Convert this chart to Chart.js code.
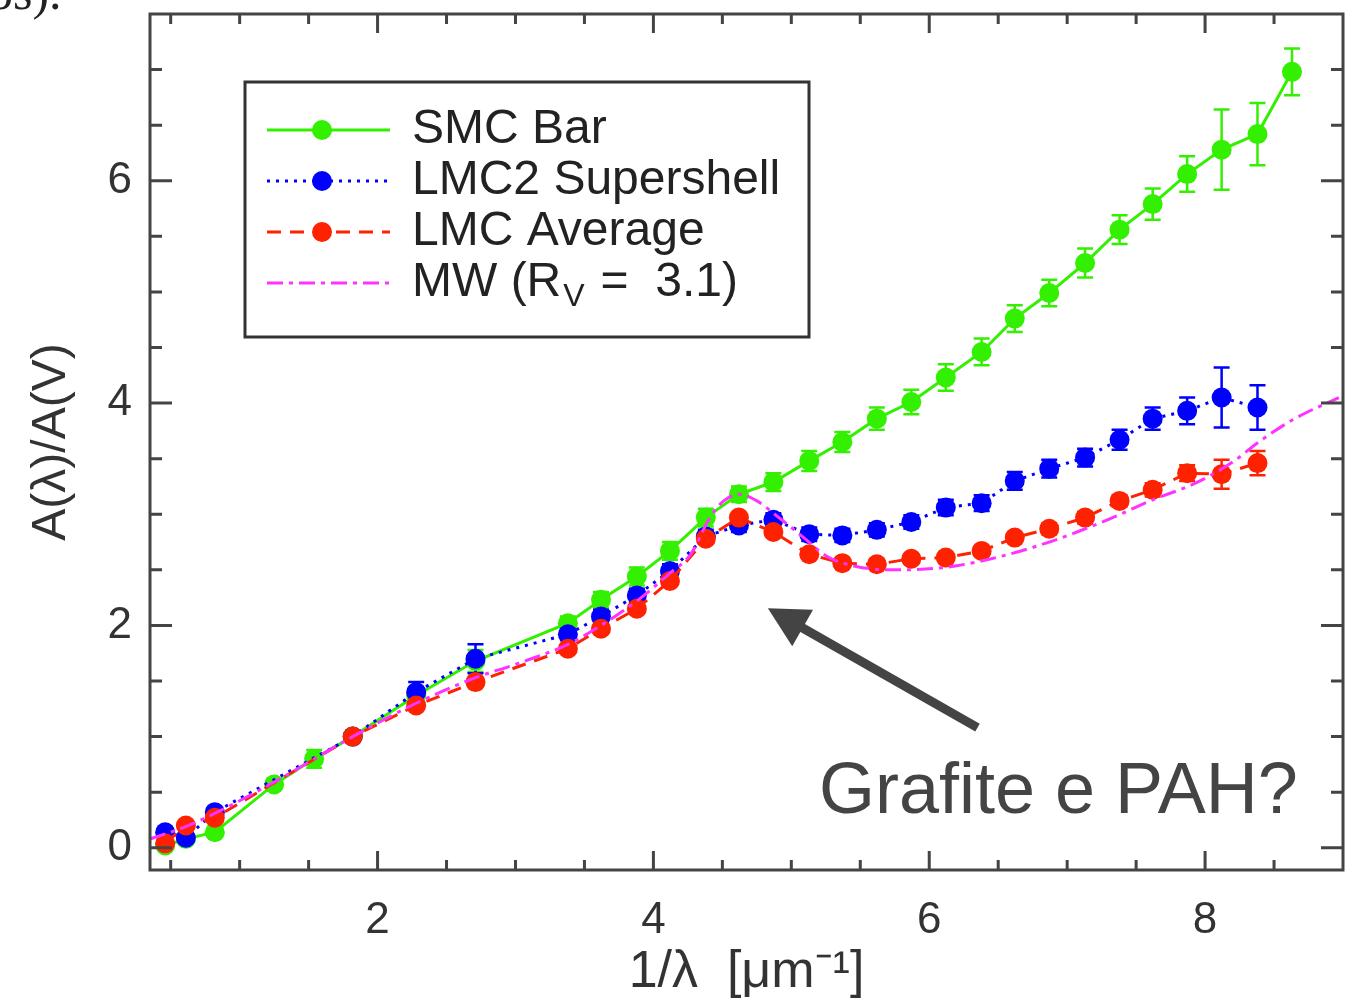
<!DOCTYPE html>
<html>
<head>
<meta charset="utf-8">
<script src="https://cdn.jsdelivr.net/npm/chart.js@4.4.1/dist/chart.umd.min.js"></script>
<style>
html,body{margin:0;padding:0;background:#fff;overflow:hidden}
#wrap{width:1353px;height:1004px}
</style>
</head>
<body>
<div id="wrap"><canvas id="c" width="1353" height="1004"></canvas></div>
<script>
// values: 1/lambda [um^-1] vs A(lambda)/A(V)
const smcX=[0.46,0.61,0.82,1.25,1.54,1.82,2.28,2.71,3.38,3.62,3.88,4.12,4.38,4.62,4.87,5.13,5.37,5.62,5.87,6.12,6.38,6.62,6.87,7.13,7.38,7.62,7.87,8.12,8.38,8.63];
const smcY=[0.02,0.08,0.14,0.57,0.80,1.00,1.37,1.68,2.02,2.23,2.44,2.67,2.97,3.18,3.29,3.48,3.65,3.86,4.01,4.23,4.46,4.76,4.99,5.26,5.56,5.79,6.06,6.28,6.42,6.98];
const smcErr=[0.03,0.03,0.04,0.04,0.08,0.02,0.05,0.10,0.06,0.07,0.08,0.08,0.08,0.07,0.08,0.09,0.09,0.10,0.11,0.12,0.12,0.12,0.12,0.13,0.13,0.14,0.16,0.36,0.28,0.21];

const lmcX=[0.46,0.61,0.82,1.82,2.28,2.71,3.38,3.62,3.88,4.12,4.38,4.62,4.87,5.13,5.37,5.62,5.87,6.12,6.38,6.62,6.87,7.13,7.38,7.62,7.87,8.12,8.38];
const lmc2Y=[0.14,0.09,0.32,1.00,1.40,1.70,1.92,2.08,2.27,2.49,2.80,2.90,2.95,2.82,2.81,2.86,2.93,3.06,3.10,3.30,3.41,3.51,3.67,3.86,3.93,4.05,3.96];
const lmc2Err=[0.03,0.03,0.04,0.03,0.09,0.13,0.05,0.06,0.06,0.06,0.06,0.06,0.06,0.06,0.06,0.06,0.06,0.07,0.07,0.08,0.08,0.08,0.09,0.10,0.12,0.27,0.20];
const lmcAvgY=[0.04,0.20,0.27,1.00,1.28,1.49,1.79,1.97,2.15,2.40,2.78,2.97,2.84,2.64,2.56,2.55,2.60,2.61,2.67,2.79,2.87,2.97,3.12,3.22,3.37,3.36,3.46];
const lmcAvgErr=[0.02,0.02,0.03,0.02,0.04,0.04,0.03,0.03,0.03,0.03,0.04,0.04,0.04,0.04,0.04,0.04,0.04,0.04,0.04,0.04,0.05,0.05,0.05,0.06,0.07,0.13,0.11];

const mwX=[0.35,0.61,0.82,1.25,1.82,2.28,2.71,3.00,3.38,3.62,3.88,4.12,4.27,4.41,4.51,4.62,4.75,4.90,5.09,5.26,5.47,5.76,6.10,6.45,6.87,7.33,7.60,7.93,8.20,8.40,8.65,8.97];
const mwY=[0.08,0.19,0.31,0.59,1.00,1.30,1.53,1.65,1.83,2.00,2.22,2.47,2.64,2.97,3.12,3.18,3.12,2.98,2.79,2.62,2.53,2.50,2.52,2.60,2.75,2.97,3.12,3.28,3.47,3.66,3.86,4.05];

const xTicks=[2,4,6,8];
const yTicks=[0,2,4,6];
const labels=['SMC Bar','LMC2 Supershell','LMC Average','MW (R'];

// annotation arrow / text, in data units
const note={text:'Grafite e PAH?',x:5.2,y:0.31,tailX:6.35,tailY:1.08,tipX:4.83,tipY:2.155};

const FONT='"Liberation Sans", Arial, sans-serif';
const pts=(xs,ys)=>xs.map((x,i)=>({x,y:ys[i]}));

const errorBars={id:'errorBars',beforeDatasetsDraw(chart){
  const {ctx,scales:{x,y}}=chart;
  ctx.save();
  chart.data.datasets.forEach(ds=>{
    if(!ds.errors) return;
    ctx.strokeStyle=ds.borderColor; ctx.lineWidth=2.5;
    ds.data.forEach((p,i)=>{
      const e=ds.errors[i], px=x.getPixelForValue(p.x);
      const y1=y.getPixelForValue(p.y-e), y2=y.getPixelForValue(p.y+e);
      ctx.beginPath();
      ctx.moveTo(px,y1);ctx.lineTo(px,y2);
      ctx.moveTo(px-8,y1);ctx.lineTo(px+8,y1);
      ctx.moveTo(px-8,y2);ctx.lineTo(px+8,y2);
      ctx.stroke();
    });
  });
  ctx.restore();
}};

const frame={id:'frame',afterDraw(chart){
  const {ctx,chartArea:a,scales:{x,y}}=chart;
  ctx.save();
  ctx.strokeStyle='#444'; ctx.lineWidth=3;
  ctx.strokeRect(a.left,a.top,a.right-a.left,a.bottom-a.top);
  ctx.beginPath();
  for(let k=1;k<=17;k++){
    const v=k/2, px=x.getPixelForValue(v), L=(k%4===0)?19:10;
    ctx.moveTo(px,a.bottom);ctx.lineTo(px,a.bottom-L);
    ctx.moveTo(px,a.top);ctx.lineTo(px,a.top+L);
  }
  for(let k=0;k<=14;k++){
    const v=k/2, py=y.getPixelForValue(v), L=(k%4===0)?22:12;
    ctx.moveTo(a.left,py);ctx.lineTo(a.left+L,py);
    ctx.moveTo(a.right,py);ctx.lineTo(a.right-L,py);
  }
  ctx.stroke();

  // legend box
  const bx=245,by=82,bw=564,bh=255;
  ctx.fillStyle='#fff';ctx.fillRect(bx,by,bw,bh);
  ctx.strokeStyle='#333';ctx.lineWidth=3;ctx.strokeRect(bx,by,bw,bh);
  ctx.font='48px '+FONT;ctx.textBaseline='middle';ctx.textAlign='left';
  chart.data.datasets.forEach((ds,i)=>{
    const ry=130+i*51;
    ctx.save();
    ctx.strokeStyle=ds.borderColor;ctx.lineWidth=3;ctx.setLineDash(ds.borderDash||[]);
    ctx.beginPath();ctx.moveTo(267,ry);ctx.lineTo(390,ry);ctx.stroke();
    ctx.restore();
    if(ds.pointRadius>0){
      ctx.fillStyle=ds.backgroundColor;ctx.beginPath();ctx.arc(322,ry,10,0,Math.PI*2);ctx.fill();
    }
    ctx.fillStyle='#222';
    ctx.fillText(labels[i],412,ry);
    if(i===3){
      const w=ctx.measureText(labels[i]).width;
      ctx.font='32px '+FONT;ctx.fillText('V',412+w+2,ry+14);
      ctx.font='48px '+FONT;ctx.fillText(' =  3.1)',412+w+26,ry);
    }
  });

  // annotation
  const tx=x.getPixelForValue(note.tailX),ty=y.getPixelForValue(note.tailY);
  const hx=x.getPixelForValue(note.tipX),hy=y.getPixelForValue(note.tipY);
  const dx=hx-tx,dy=hy-ty,len=Math.hypot(dx,dy),ux=dx/len,uy=dy/len;
  const bxp=hx-ux*40,byp=hy-uy*40;
  ctx.strokeStyle='#444';ctx.fillStyle='#444';ctx.lineWidth=9;
  ctx.beginPath();ctx.moveTo(tx,ty);ctx.lineTo(bxp+ux*4,byp+uy*4);ctx.stroke();
  ctx.beginPath();ctx.moveTo(hx,hy);
  ctx.lineTo(bxp-uy*21,byp+ux*21);ctx.lineTo(bxp+uy*21,byp-ux*21);ctx.closePath();ctx.fill();
  ctx.font='72px '+FONT;ctx.textBaseline='alphabetic';
  ctx.fillText(note.text,x.getPixelForValue(note.x),y.getPixelForValue(note.y));

  // cut-off text from the page above
  ctx.fillStyle='#222';ctx.font='50px "Liberation Serif", serif';
  ctx.fillText('os).',-12,9);
  ctx.restore();
}};

new Chart(document.getElementById('c'),{
  type:'scatter',
  data:{datasets:[
    {label:'SMC Bar',data:pts(smcX,smcY),errors:smcErr,showLine:true,borderColor:'#33f000',backgroundColor:'#33f000',borderWidth:3,pointRadius:10,pointBorderWidth:0,order:4},
    {label:'LMC2 Supershell',data:pts(lmcX,lmc2Y),errors:lmc2Err,showLine:true,borderColor:'#0000ff',backgroundColor:'#0000ff',borderWidth:3,borderDash:[3,6],pointRadius:10,pointBorderWidth:0,order:3},
    {label:'LMC Average',data:pts(lmcX,lmcAvgY),errors:lmcAvgErr,showLine:true,borderColor:'#ff2200',backgroundColor:'#ff2200',borderWidth:3,borderDash:[14,9],pointRadius:10,pointBorderWidth:0,order:2},
    {label:'MW (Rv = 3.1)',data:pts(mwX,mwY),showLine:true,borderColor:'#ff33ff',backgroundColor:'#ff33ff',borderWidth:3,borderDash:[16,6,4,6],pointRadius:0,cubicInterpolationMode:'monotone',order:1}
  ]},
  options:{
    responsive:false,animation:false,devicePixelRatio:1,
    layout:{padding:{left:0,top:14,right:6,bottom:0}},
    plugins:{legend:{display:false},tooltip:{enabled:false}},
    scales:{
      x:{type:'linear',min:0.35,max:9.0,
        grid:{display:false,drawTicks:false},border:{display:false},
        afterBuildTicks:s=>{s.ticks=xTicks.map(v=>({value:v}));},
        afterFit:s=>{s.height=134;s.paddingLeft=0;s.paddingRight=0;},
        ticks:{font:{family:FONT,size:44},color:'#333',padding:24,maxRotation:0},
        title:{display:true,text:'1/λ  [μm⁻¹]',font:{family:FONT,size:52},color:'#333',padding:{top:0,bottom:0}}},
      y:{type:'linear',min:-0.2,max:7.5,
        grid:{display:false,drawTicks:false},border:{display:false},
        afterBuildTicks:s=>{s.ticks=yTicks.map(v=>({value:v}));},
        afterFit:s=>{s.width=150;s.paddingTop=0;s.paddingBottom=0;},
        ticks:{font:{family:FONT,size:44},color:'#333',padding:18},
        title:{display:true,text:'A(λ)/A(V)',font:{family:FONT,size:48},color:'#333',padding:{top:23,bottom:0}}}
    }
  },
  plugins:[errorBars,frame]
});
</script>
</body>
</html>
